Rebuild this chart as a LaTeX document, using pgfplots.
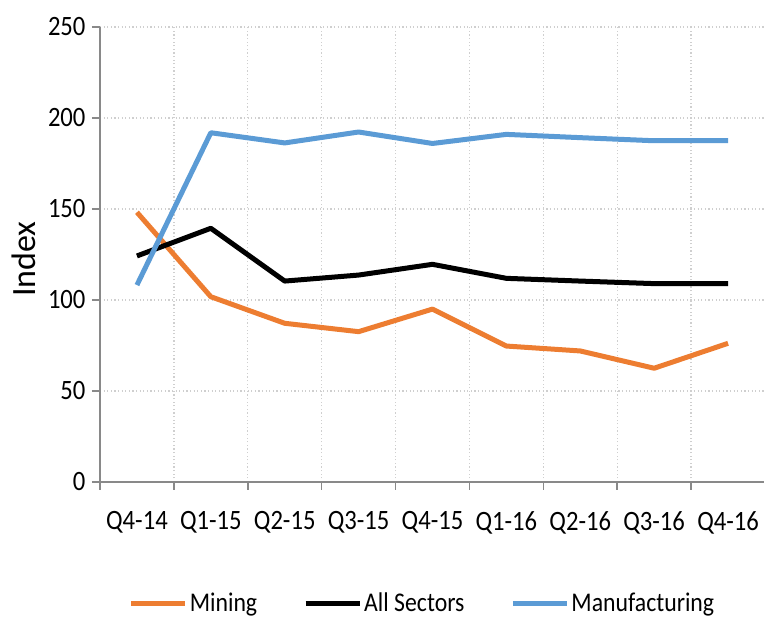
\documentclass[border=0pt]{standalone}
\usepackage{pgfplots}
\pgfplotsset{compat=1.18}
\usepackage{fontspec}
\setmainfont{Carlito}[FakeStretch=0.88]
\newfontfamily\labelfont{Carlito}
\definecolor{mining}{HTML}{ED7D31}
\definecolor{manuf}{HTML}{5B9BD5}
\definecolor{axgray}{HTML}{898989}
\definecolor{gridgray}{HTML}{CFCFCF}
\begin{document}
\begin{tikzpicture}[x=1pt,y=1pt]
\useasboundingbox (-100,-136) rectangle (664,482);
\begin{axis}[
  at={(0,0)}, anchor=south west,
  scale only axis, width=665pt, height=455pt,
  xmin=-0.5, xmax=8.5, ymin=0, ymax=250,
  ytick={0,50,...,250},
  xtick={0,...,8},
  xticklabels={Q4-14,Q1-15,Q2-15,Q3-15,Q4-15,Q1-16,Q2-16,Q3-16,Q4-16},
  minor xtick={-0.5,0.5,1.5,2.5,3.5,4.5,5.5,6.5,7.5},
  axis x line*=bottom, axis y line*=left,
  axis line style={axgray, line width=1.6pt},
  tick align=outside, major tick length=8pt, minor tick length=8pt,
  major x tick style={draw=none},
  minor x tick style={axgray, line width=1.6pt},
  major y tick style={axgray, line width=1.6pt},
  xminorgrids, ymajorgrids, xmajorgrids=false,
  major grid style={gridgray, dash pattern=on 1.2pt off 2.4pt, line width=1.3pt},
  minor grid style={gridgray, dash pattern=on 1.2pt off 2.4pt, line width=1.3pt},
  /pgf/number format/assume math mode=true,
  tick label style={font=\fontsize{28}{32}\selectfont, black},
  xticklabel style={yshift=-18pt},
  yticklabel style={xshift=-3pt},
  ylabel={Index},
  every axis y label/.style={at={(axis description cs:-0.115,0.49)}, rotate=90, anchor=center, font=\fontsize{34}{38}\labelfont},
  legend columns=3,
  legend style={at={(0.485,-0.266)}, anchor=center, draw=none, fill=none,
    font=\fontsize{27}{30}\selectfont,
    /tikz/every even column/.append style={column sep=44pt}},
  legend image code/.code={\draw[#1] (0pt,0pt) -- (54pt,0pt);},
  every axis plot/.append style={line width=5pt, line join=round},
]
\addplot[mining] coordinates {(0,148.2) (1,101.8) (2,87.2) (3,82.6) (4,95.0) (5,74.7) (6,72.0) (7,62.5) (8,76.2)};
\addlegendentry{Mining}
\addplot[black] coordinates {(0,124.2) (1,139.4) (2,110.4) (3,113.7) (4,119.6) (5,111.9) (6,110.4) (7,109.0) (8,109.0)};
\addlegendentry{All Sectors}
\addplot[manuf] coordinates {(0,108.2) (1,191.9) (2,186.3) (3,192.3) (4,186.0) (5,191.0) (6,189.2) (7,187.5) (8,187.5)};
\addlegendentry{Manufacturing}
\end{axis}
\end{tikzpicture}
\end{document}
